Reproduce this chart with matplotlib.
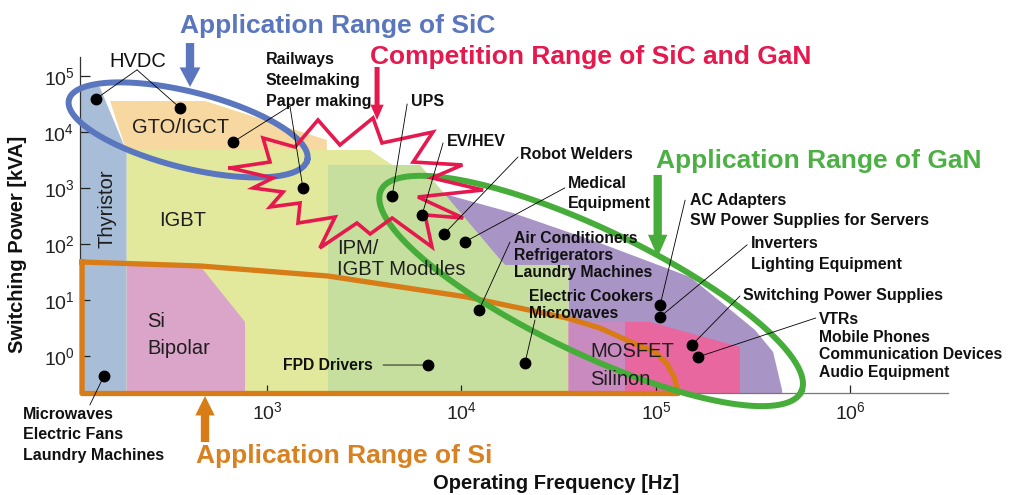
import numpy as np
import matplotlib
matplotlib.use("Agg")
import matplotlib.pyplot as plt
from matplotlib.patches import Polygon

plt.rcParams['font.family'] = ['Liberation Sans', 'DejaVu Sans']
plt.rcParams['mathtext.fontset'] = 'custom'
plt.rcParams['mathtext.rm'] = 'Liberation Sans'
plt.rcParams['mathtext.it'] = 'Liberation Sans:italic'
plt.rcParams['mathtext.bf'] = 'Liberation Sans:bold'

# ---------------- data ----------------
x_ticks = [1e3, 1e4, 1e5, 1e6]
x_tick_labels = [r'$10^{3}$', r'$10^{4}$', r'$10^{5}$', r'$10^{6}$']
y_ticks = [1e0, 1e1, 1e2, 1e3, 1e4, 1e5]
y_tick_labels = [r'$10^{0}$', r'$10^{1}$', r'$10^{2}$', r'$10^{3}$', r'$10^{4}$', r'$10^{5}$']

# device regions (frequency Hz, power kVA)
gto_f = [156, 480, 2030, 2030, 190]
gto_p = [3.58e4, 3.58e4, 7.2e3, 4.4e3, 4.4e3]
thyristor_f = [100, 138, 190, 190, 100]
thyristor_p = [6.4e4, 6.4e4, 4.4e3, 0.1, 0.1]
igbt_f = [190, 3390, 4400, 4400, 190]
igbt_p = [4.77e3, 4.77e3, 2.58e3, 0.1, 0.1]
bipolar_f = [190, 453, 771, 771, 190]
bipolar_p = [40.5, 40.5, 4.05, 0.1, 0.1]
gan_zone_f = [6490, 16700, 35500, 35500, 4.45e5, 4.45e5, 4.0e5, 3.23e5, 2.32e5, 1.50e5, 5.15e4, 1.84e4, 6890]
gan_zone_p = [1000, 42.2, 42.2, 0.1, 0.1, 0.247, 1.18, 2.91, 7.5, 25.7, 104, 358, 921]
ipm_f = [2060, 6120, 16700, 35500, 35500, 2060]
ipm_p = [2580, 2580, 42.2, 42.2, 0.1, 0.1]
mosfet_f = [35500, 93100, 2.70e5, 2.70e5, 35500]
mosfet_p = [4.05, 4.05, 1.45, 0.1, 0.1]
mosfet_low_f = [35500, 69300, 69300, 35500]
mosfet_low_p = [4.05, 4.05, 0.1, 0.1]

region_names = ['GTO/IGCT', 'Thyristor', 'IGBT', 'Si', 'Bipolar', 'IPM/', 'IGBT Modules', 'MOSFET', 'Silinon']
region_label_f = [361, 150, 370, 242, 242, 2290, 2290, 4.58e4, 4.58e4]
region_label_p = [1.28e4, 422, 280, 4.4, 1.45, 88.4, 37.3, 1.28, 0.42]

# Si range outline
si_f = [112, 453, 2060, 1.07e4, 3.48e4, 5.15e4, 7.62e4, 9.9e4, 1.14e5, 1.24e5, 1.30e5, 1.30e5, 112]
si_p = [47.7, 40.5, 26.8, 11.3, 4.77, 3.16, 1.71, 1.18, 0.72, 0.42, 0.227, 0.214, 0.214]

# competition range outline
comp_f = [646, 1036, 954, 1393, 1828, 2371, 3508, 3900, 7130, 5640, 1.01e4, 7050, 1.29e4, 5970,
          1.02e4, 6490, 7050, 4400, 3390, 2900, 1870, 2240, 1443, 1479, 1036, 1209, 847, 1073]
comp_p = [2280, 2910, 7810, 5400, 1.64e4, 5860, 1.78e4, 6370, 1.0e4, 2910, 2580, 1510, 921, 691,
          291, 330, 88.4, 291, 151, 237, 84.9, 303, 237, 540, 458, 849, 1000, 1510]

# application points
app_freq = [132, 357, 668, 1530, 4400, 6270, 8130, 10400, 12300, 21200, 6730, 145,
            1.05e5, 1.05e5, 1.53e5, 1.64e5]
app_power = [3.9e4, 2.7e4, 6.6e3, 1.0e3, 720, 330, 151, 109, 6.6, 0.75, 0.69, 0.44,
             8.1, 5.0, 1.57, 0.96]
app_names = ['HVDC', 'HVDC',
             'Railways\nSteelmaking\nPaper making', 'Railways\nSteelmaking\nPaper making',
             'UPS', 'EV/HEV', 'Robot Welders', 'Medical\nEquipment',
             'Air Conditioners\nRefrigerators\nLaundry Machines',
             'Electric Cookers\nMicrowaves', 'FPD Drivers',
             'Microwaves\nElectric Fans\nLaundry Machines',
             'AC Adapters\nSW Power Supplies for Servers',
             'Inverters\nLighting Equipment', 'Switching Power Supplies',
             'VTRs\nMobile Phones\nCommunication Devices\nAudio Equipment']

# ---------------- layout / style ----------------
W, H = 1013, 495
fig = plt.figure(figsize=(W / 100, H / 100), dpi=100)
ax = fig.add_axes([80 / W, 102 / H, 868 / W, 336 / H])
ax.set_xscale('log')
ax.set_yscale('log')
xlim = (10 ** 2.03856, 10 ** 6.50129)
ylim = (10 ** -0.66071, 10 ** 5.33929)
ax.set_xlim(*xlim)
ax.set_ylim(*ylim)
for s in ['top', 'right']:
    ax.spines[s].set_visible(False)
ax.spines['left'].set_color('#333333')
ax.spines['bottom'].set_color('#777777')
ax.spines['left'].set_linewidth(0.9)
ax.spines['bottom'].set_linewidth(0.9)
ax.set_xticks(x_ticks)
ax.set_xticklabels(x_tick_labels)
ax.set_yticks(y_ticks)
ax.set_yticklabels(y_tick_labels)
ax.minorticks_off()
ax.tick_params(axis='x', direction='in', length=6, width=0.9, pad=6, labelsize=14, colors='#222222')
ax.tick_params(axis='y', direction='in', length=7, width=0.9, pad=4, labelsize=14, colors='#222222')
for t in ax.get_xticklines() + ax.get_yticklines():
    t.set_zorder(2.5)

def fill(fx, py, color, z=1):
    ax.add_patch(Polygon(np.column_stack([fx, py]), closed=True, facecolor=color,
                         edgecolor='none', zorder=z))

fill(gto_f, gto_p, '#f7d8a0')
fill(thyristor_f, thyristor_p, '#a8bed8')
fill(igbt_f, igbt_p, '#e2e89c')
fill(bipolar_f, bipolar_p, '#dba4c9')
fill(gan_zone_f, gan_zone_p, '#a994c6')
fill(ipm_f, ipm_p, '#c6df9f')
fill(mosfet_f, mosfet_p, '#e8679f')
fill(mosfet_low_f, mosfet_low_p, '#c98bbf')

for name, f, p in zip(region_names, region_label_f, region_label_p):
    if name == 'Thyristor':
        ax.text(f, p, name, fontsize=14.5, rotation=90, ha='center', va='center',
                color='#1e1e1e', zorder=7)
        continue
    ha = 'center' if name in ('GTO/IGCT', 'IGBT') else 'left'
    ax.text(f, p, name, fontsize=14.5, ha=ha, va='center_baseline',
            color='#1e1e1e', zorder=7)

# Si outline (closed)
ax.plot(si_f + si_f[:1], si_p + si_p[:1], color='#d77c17', lw=3.8,
        solid_joinstyle='round', clip_on=False, zorder=3)

# ellipses (SiC, GaN) in log space with isotropic pixel scaling
x_px_per_dec = 868 / np.log10(xlim[1] / xlim[0])
y_px_per_dec = 336 / np.log10(ylim[1] / ylim[0])
k = y_px_per_dec / x_px_per_dec

def ellipse(fc, pc, a_dec, b_dec, ang):
    t = np.linspace(0, 2 * np.pi, 400)
    th = np.deg2rad(ang)
    du = a_dec * np.cos(t) * np.cos(th) - b_dec * np.sin(t) * np.sin(th)
    dw = a_dec * np.cos(t) * np.sin(th) + b_dec * np.sin(t) * np.cos(th)
    return 10 ** (np.log10(fc) + du), 10 ** (np.log10(pc) + dw / k)

ef, ep = ellipse(393, 1.09e4, 0.632, 0.195, -14.2)
ax.plot(ef, ep, color='#5a76bf', lw=4.3, clip_on=False, zorder=4)
gf, gp = ellipse(4.64e4, 14.5, 1.198, 0.319, -25.6)
ax.plot(gf, gp, color='#47ad3a', lw=4.3, clip_on=False, zorder=4)

# competition star outline
ax.plot(comp_f + comp_f[:1], comp_p + comp_p[:1], color='#e5194e', lw=2.6,
        solid_joinstyle='miter', clip_on=False, zorder=5)

# arrows
def big_arrow(f, p_tail, p_tip, color, width, hw, hl):
    ax.annotate('', xy=(f, p_tip), xytext=(f, p_tail), annotation_clip=False,
                arrowprops=dict(facecolor=color, edgecolor='none', width=width,
                                headwidth=hw, headlength=hl, shrink=0), zorder=6)

big_arrow(402, 3.88e5, 6.4e4, '#5a76bf', 6, 15, 14)
big_arrow(3680, 1.45e5, 1.64e4, '#e5194e', 3.6, 9.5, 11)
big_arrow(1.02e5, 1.71e3, 58.6, '#47ad3a', 6, 14, 16)
big_arrow(480, 0.0291, 0.193, '#d77c17', 6, 14, 14)

# points
ax.plot(app_freq, app_power, 'o', color='black', ms=7.5, zorder=8, clip_on=False)

# leader lines: start offsets in pixels relative to each point
leader_dx = [41, -43, 57, -13, 15, 21, 74, 100, 31, 10, -45, -14, 25, 87, 48, 118]
leader_dy = [29, 38, 36, 82, 92, 72, 77, 54, 68, 43, 0, -29, 105, 72, 49, 39]
for f, p, dx, dy in zip(app_freq, app_power, leader_dx, leader_dy):
    ax.annotate('', xy=(f, p), xytext=(dx, dy), textcoords='offset pixels',
                annotation_clip=False,
                arrowprops=dict(arrowstyle='-', lw=0.6, color='black', shrinkA=0, shrinkB=0),
                zorder=7)

# label text offsets (pixels from the first point of each label)
label_layout = {
    'HVDC': (42, 39, 0, 'center', 'normal', 14.5),
    'Railways\nSteelmaking\nPaper making': (33, 84, 21, 'left', 'bold', 11.5),
    'UPS': (19, 96, 0, 'left', 'bold', 11.5),
    'EV/HEV': (25, 75, 0, 'left', 'bold', 11.5),
    'Robot Welders': (76, 81, 0, 'left', 'bold', 11.5),
    'Medical\nEquipment': (103, 60, 20, 'left', 'bold', 11.5),
    'Air Conditioners\nRefrigerators\nLaundry Machines': (35, 73, 17, 'left', 'bold', 11.3),
    'Electric Cookers\nMicrowaves': (4, 68, 17, 'left', 'bold', 11.3),
    'FPD Drivers': (-145, 1, 0, 'left', 'bold', 11.3),
    'Microwaves\nElectric Fans\nLaundry Machines': (-81, -37, 20.5, 'left', 'bold', 11.5),
    'AC Adapters\nSW Power Supplies for Servers': (30, 106, 20, 'left', 'bold', 11.5),
    'Inverters\nLighting Equipment': (91, 75, 21, 'left', 'bold', 11.5),
    'Switching Power Supplies': (51, 51, 0, 'left', 'bold', 11.5),
    'VTRs\nMobile Phones\nCommunication Devices\nAudio Equipment': (121, 39, 17.7, 'left', 'bold', 11.3),
}
done = set()
for f, p, name in zip(app_freq, app_power, app_names):
    if name in done:
        continue
    done.add(name)
    dx, dy, sp, ha, wt, fs = label_layout[name]
    for i, line in enumerate(name.split('\n')):
        ax.annotate(line, xy=(f, p), xytext=(dx, dy - i * sp), textcoords='offset pixels',
                    ha=ha, va='center_baseline', fontsize=fs, fontweight=wt,
                    color='#111111', annotation_clip=False, zorder=9)

# range titles
fig.text(180 / W, 1 - 33 / H, 'Application Range of SiC', color='#5a76bf',
         fontsize=19, fontweight='bold', ha='left', va='baseline')
fig.text(370 / W, 1 - 64 / H, 'Competition Range of SiC and GaN', color='#e5194e',
         fontsize=19, fontweight='bold', ha='left', va='baseline')
fig.text(656 / W, 1 - 168 / H, 'Application Range of GaN', color='#4db045',
         fontsize=19, fontweight='bold', ha='left', va='baseline')
fig.text(196 / W, 1 - 463 / H, 'Application Range of Si', color='#d98120',
         fontsize=19, fontweight='bold', ha='left', va='baseline')

# axis labels
fig.text(556 / W, 1 - 489 / H, 'Operating Frequency [Hz]', fontsize=14.5,
         fontweight='bold', ha='center', va='baseline', color='#111111')
fig.text(18 / W, 1 - 244 / H, 'Switching Power [kVA]', fontsize=14.5, rotation=90,
         fontweight='bold', ha='center', va='center', color='#111111')

fig.savefig('out.png', dpi=100, facecolor='white')
